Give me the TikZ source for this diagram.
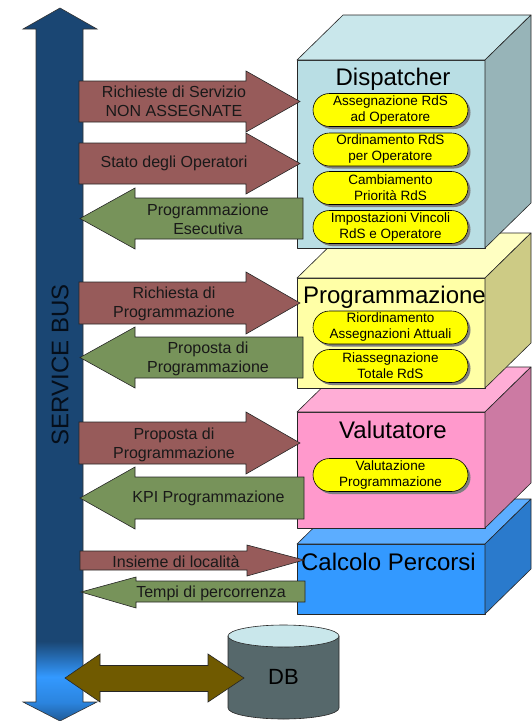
\documentclass[tikz,border=0pt]{standalone}
\usepackage{fontspec}
\setmainfont{Liberation Sans}
\usetikzlibrary{shapes.misc,shadows}
\definecolor{busdark}{HTML}{1A4673}
\definecolor{busmidc}{HTML}{2B84DE}
\definecolor{buslight}{HTML}{3399FF}
\definecolor{bustip}{HTML}{1F5A96}
\definecolor{bustext}{HTML}{050E1A}
\definecolor{redarr}{HTML}{975B5A}
\definecolor{greenarr}{HTML}{77935A}
\definecolor{olivearr}{HTML}{705A00}
\definecolor{dfront}{HTML}{B9DEE4}
\definecolor{dtop}{HTML}{C9E7EB}
\definecolor{dside}{HTML}{97B4B8}
\definecolor{yfront}{HTML}{FFFFA6}
\definecolor{ytop}{HTML}{FFFFC2}
\definecolor{yside}{HTML}{CDCB85}
\definecolor{pfront}{HTML}{FF99CC}
\definecolor{ptop}{HTML}{FFADD6}
\definecolor{pside}{HTML}{CC7AA3}
\definecolor{bfront}{HTML}{3399FF}
\definecolor{btop}{HTML}{5CADFF}
\definecolor{bside}{HTML}{2A7ACC}
\definecolor{pillyellow}{HTML}{FFFF00}
\definecolor{shadowgray}{HTML}{7F7F7F}
\definecolor{dbbody}{HTML}{56686B}
\definecolor{dbtop}{HTML}{C9E7EB}
\pgfdeclareverticalshading{busshade}{100bp}{color(0bp)=(bustip); color(25bp)=(bustip); color(26.3bp)=(busmidc); color(28.1bp)=(buslight); color(30.6bp)=(busdark); color(75bp)=(busdark); color(100bp)=(busdark)}
\newcommand\drawcube[5]{%
  \filldraw[cubeline, fill=#3] (297,#1) rectangle (485,#2);
  \filldraw[cubeline, fill=#4] (297,#1) -- (343,#1-45) -- (531,#1-45) -- (485,#1) -- cycle;
  \filldraw[cubeline, fill=#5] (485,#1) -- (531,#1-45) -- (531,#2-45) -- (485,#2) -- cycle;
}
\tikzset{
  cubeline/.style={draw=black!85, line width=0.6pt, line join=round},
  blockarrow/.style={draw=black!85, line width=0.6pt, line join=miter},
  atext/.style={align=center, inner sep=0pt, text=black!90, font=\fontsize{16}{19}\selectfont},
  title/.style={anchor=base, inner sep=0pt, font=\fontsize{24}{28}\selectfont},
  pill/.style={rounded rectangle, draw=black, line width=0.6pt, fill=pillyellow,
    minimum width=155pt, minimum height=33pt, inner sep=0pt, align=center,
    font=\fontsize{13.5}{16}\selectfont,
    drop shadow={shadow xshift=2.5pt, shadow yshift=-2.5pt, fill=shadowgray, opacity=1}},
}
\begin{document}
\begin{tikzpicture}[x=1pt,y=-1pt]
\useasboundingbox (0,0) rectangle (532,721);
% service bus
\shade[shading=busshade, draw=black!80, line width=0.6pt]
  (60,8) -- (97,29) -- (83,29) -- (83,702) -- (97,702) -- (60,721) -- (23,702) -- (36,702) -- (36,29) -- (23,29) -- cycle;
\node[rotate=90, inner sep=0pt, text=bustext, font=\fontsize{24}{28}\selectfont] (sb) at (60,365) {SERVICE BUS};
% boxes, bottom to top
\drawcube{544}{614}{bfront}{btop}{bside}
\drawcube{412}{528}{pfront}{ptop}{pside}
\drawcube{278}{388}{yfront}{ytop}{yside}
\drawcube{60}{248}{dfront}{dtop}{dside}
% titles
\node[title] (tdisp) at (393,85) {Dispatcher};
\node[title] (tprog) at (394.5,303) {Programmazione};
\node[title] (tval) at (393,438) {Valutatore};
\node[title] (tcalc) at (388.5,570) {Calcolo Percorsi};
% pills
\node[pill] (p1) at (390.5,110) {Assegnazione RdS\\ad Operatore};
\node[pill] (p2) at (390.5,149.5) {Ordinamento RdS\\per Operatore};
\node[pill] (p3) at (390.5,188) {Cambiamento\\Priorità RdS};
\node[pill] (p4) at (390.5,227) {Impostazioni Vincoli\\RdS e Operatore};
\node[pill] (p5) at (390.5,327.5) {Riordinamento\\Assegnazioni Attuali};
\node[pill] (p6) at (390.5,366) {Riassegnazione\\Totale RdS};
\node[pill] (p7) at (390.5,475) {Valutazione\\Programmazione};
% red arrows
\filldraw[blockarrow, fill=redarr] (79,81) -- (246,81) -- (246,71) -- (300,101.5) -- (246,132) -- (246,122) -- (79,122) -- cycle;
\filldraw[blockarrow, fill=redarr] (79,143) -- (246,143) -- (246,133) -- (300,163.5) -- (246,194) -- (246,184) -- (79,184) -- cycle;
\filldraw[blockarrow, fill=redarr] (79,282) -- (246,282) -- (246,272) -- (300,303) -- (246,334) -- (246,324) -- (79,324) -- cycle;
\filldraw[blockarrow, fill=redarr] (79,422) -- (246,422) -- (246,412) -- (300,443) -- (246,474) -- (246,464) -- (79,464) -- cycle;
\filldraw[blockarrow, fill=redarr] (80,551) -- (247,551) -- (247,545) -- (304,560) -- (247,576) -- (247,570) -- (80,570) -- cycle;
% green arrows
\filldraw[blockarrow, fill=greenarr] (80,218.5) -- (135,188) -- (135,198) -- (303,198) -- (303,239) -- (135,239) -- (135,249) -- cycle;
\filldraw[blockarrow, fill=greenarr] (80,357.5) -- (135,327) -- (135,337) -- (303,337) -- (303,378) -- (135,378) -- (135,388) -- cycle;
\filldraw[blockarrow, fill=greenarr] (80,498) -- (135,467) -- (135,477) -- (304,477) -- (304,519) -- (135,519) -- (135,529) -- cycle;
\filldraw[blockarrow, fill=greenarr] (81,592) -- (136,577) -- (136,581) -- (305,581) -- (305,602) -- (136,602) -- (136,608) -- cycle;
% arrow texts
\node[atext] (a1) at (174,101.5) {Richieste di Servizio\\NON ASSEGNATE};
\node[atext] (a2) at (174,163.5) {Stato degli Operatori};
\node[atext] (a3) at (208,219) {Programmazione\\Esecutiva};
\node[atext] (a4) at (174,304) {Richiesta di\\Programmazione};
\node[atext] (a5) at (208,358.5) {Proposta di\\Programmazione};
\node[atext] (a6) at (174,444.5) {Proposta di\\Programmazione};
\node[atext] (a7) at (208.5,498.5) {KPI Programmazione};
\node[atext] (a8) at (176,561.5) {Insieme di località};
\node[atext] (a9) at (211,593) {Tempi di percorrenza};
% DB
\filldraw[cubeline, fill=dbbody] (228,636) -- (228,708) arc[start angle=180, end angle=360, x radius=55.5pt, y radius=11pt] -- (339,636) -- cycle;
\filldraw[cubeline, fill=dbtop] (283.5,636) ellipse [x radius=55.5pt, y radius=11pt];
\node[inner sep=0pt, font=\fontsize{22}{26}\selectfont] (db) at (283.5,677) {DB};
% double arrow bus <-> DB
\filldraw[blockarrow, fill=olivearr] (65,678) -- (100,654) -- (100,665.5) -- (208,665.5) -- (208,654) -- (244,678) -- (208,702) -- (208,691.5) -- (100,691.5) -- (100,702) -- cycle;
\end{tikzpicture}
\end{document}
